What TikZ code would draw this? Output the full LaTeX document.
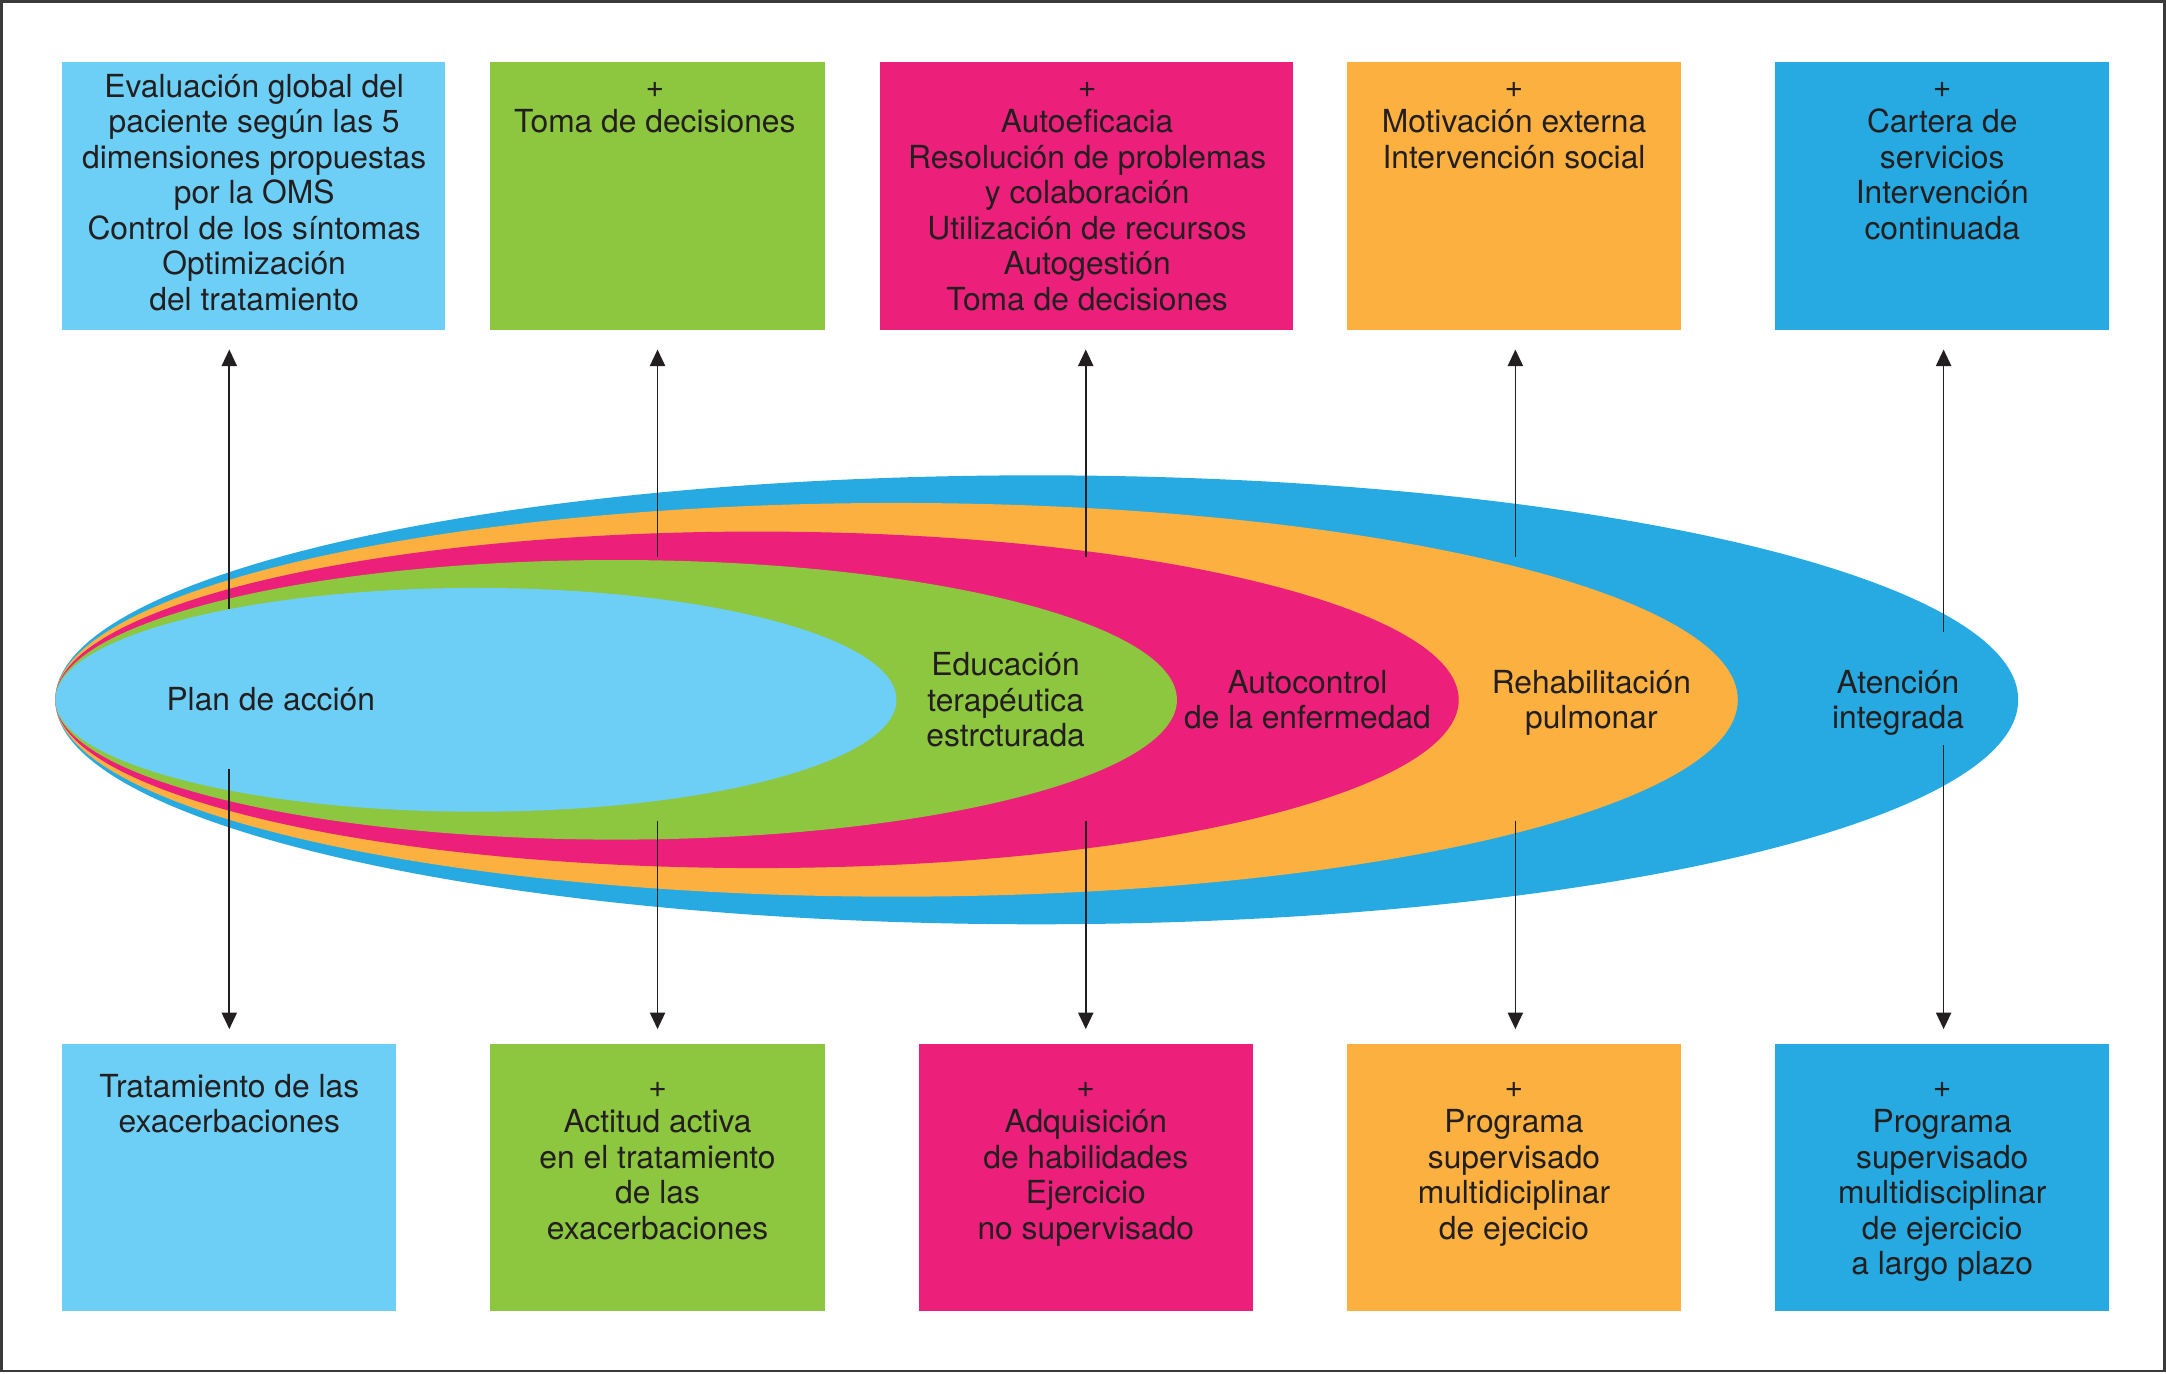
\documentclass[tikz,border=0pt]{standalone}
\usepackage{fontspec}
\setmainfont{TeX Gyre Heros}
\usetikzlibrary{arrows.meta}
\definecolor{cLB}{HTML}{6DCFF6}
\definecolor{cGR}{HTML}{8DC63F}
\definecolor{cMG}{HTML}{EC1F7A}
\definecolor{cOR}{HTML}{FBB040}
\definecolor{cBL}{HTML}{27AAE1}
\definecolor{ink}{HTML}{231F20}
\definecolor{framecol}{HTML}{3A3A3A}
\newcommand\firstln{\rule{0pt}{21bp}}
\begin{document}
\begin{tikzpicture}[x=1bp,y=-1bp,
  topbox/.style={draw=none, inner sep=0, minimum height=194bp},
  botbox/.style={draw=none, inner sep=0, minimum height=193bp, minimum width=242bp},
  txt/.style={align=center, inner sep=0, anchor=north, text=ink, font=\fontsize{23bp}{25.7bp}\selectfont},
  arr/.style={draw=ink, line width=1.2bp, -{Triangle[length=12bp,width=11bp]}}]
\useasboundingbox (0,0) rectangle (1568,994);
\draw[line width=1.8bp, framecol] (1.2,1.2) rectangle (1566.8,992.6);

% ellipses
\fill[cBL] (750.5,506.6) ellipse [x radius=710.5, y radius=162.5];
\fill[cOR] (649,506.6) ellipse [x radius=609, y radius=142.5];
\fill[cMG] (548,506.6) ellipse [x radius=508, y radius=121.8];
\fill[cGR] (446,506.6) ellipse [x radius=406, y radius=101.2];
\fill[cLB] (344.5,506.6) ellipse [x radius=304.5, y radius=81];

\node[txt] (lplan) at (196,493) {\firstln Plan de acción};
\node[txt] (ledu) at (728,468) {\firstln Educación\\terapéutica\\estrcturada};
\node[txt] (lauto) at (946.5,480.5) {\firstln Autocontrol\\de la enfermedad};
\node[txt] (lreha) at (1152,480.5) {\firstln Rehabilitación\\pulmonar};
\node[txt] (laten) at (1374,480.5) {\firstln Atención\\integrada};

% top boxes
\node[topbox, fill=cLB, minimum width=277bp] (t1) at (183.5,142) {};
\node[topbox, fill=cGR, minimum width=242bp] (t2) at (476,142) {};
\node[topbox, fill=cMG, minimum width=299bp] (t3) at (786.5,142) {};
\node[topbox, fill=cOR, minimum width=242bp] (t4) at (1096,142) {};
\node[topbox, fill=cBL, minimum width=242bp] (t5) at (1406,142) {};

\node[txt] (t1x) at (184,49.3) {\firstln Evaluación global del\\paciente según las 5\\dimensiones propuestas\\por la OMS\\Control de los síntomas\\Optimización\\del tratamiento};
\node[txt] (t2x) at (474,49.3) {\firstln +\\Toma de decisiones};
\node[txt] (t3x) at (787,49.3) {\firstln +\\Autoeficacia\\Resolución de problemas\\y colaboración\\Utilización de recursos\\Autogestión\\Toma de decisiones};
\node[txt] (t4x) at (1096,49.3) {\firstln +\\Motivación externa\\Intervención social};
\node[txt] (t5x) at (1406,49.3) {\firstln +\\Cartera de\\servicios\\Intervención\\continuada};

% bottom boxes
\node[botbox, fill=cLB] (b1) at (166,852.5) {};
\node[botbox, fill=cGR] (b2) at (476,852.5) {};
\node[botbox, fill=cMG] (b3) at (786,852.5) {};
\node[botbox, fill=cOR] (b4) at (1096,852.5) {};
\node[botbox, fill=cBL] (b5) at (1406,852.5) {};

\node[txt] (b1x) at (166,773) {\firstln Tratamiento de las\\exacerbaciones};
\node[txt] (b2x) at (476,773) {\firstln +\\Actitud activa\\en el tratamiento\\de las\\exacerbaciones};
\node[txt] (b3x) at (786,773) {\firstln +\\Adquisición\\de habilidades\\Ejercicio\\no supervisado};
\node[txt] (b4x) at (1096,773) {\firstln +\\Programa\\supervisado\\multidiciplinar\\de ejecicio};
\node[txt] (b5x) at (1406,773) {\firstln +\\Programa\\supervisado\\multidisciplinar\\de ejercicio\\a largo plazo};

% arrow end points
\coordinate (u1s) at (166,440.5);  \coordinate (u1e) at (166,253);
\coordinate (u2s) at (476,403);    \coordinate (u2e) at (476,253);
\coordinate (u3s) at (786,403);    \coordinate (u3e) at (786,253);
\coordinate (u4s) at (1097,403);   \coordinate (u4e) at (1097,253);
\coordinate (u5s) at (1407,457.6); \coordinate (u5e) at (1407,253);
\coordinate (d1s) at (166,557);    \coordinate (d1e) at (166,745);
\coordinate (d2s) at (476,594);    \coordinate (d2e) at (476,745);
\coordinate (d3s) at (786,594);    \coordinate (d3e) at (786,745);
\coordinate (d4s) at (1097,594);   \coordinate (d4e) at (1097,745);
\coordinate (d5s) at (1407,539.5); \coordinate (d5e) at (1407,745);

\foreach \i in {1,...,5}{
  \draw[arr] (u\i s) -- (u\i e);
  \draw[arr] (d\i s) -- (d\i e);
}
\end{tikzpicture}
\end{document}
